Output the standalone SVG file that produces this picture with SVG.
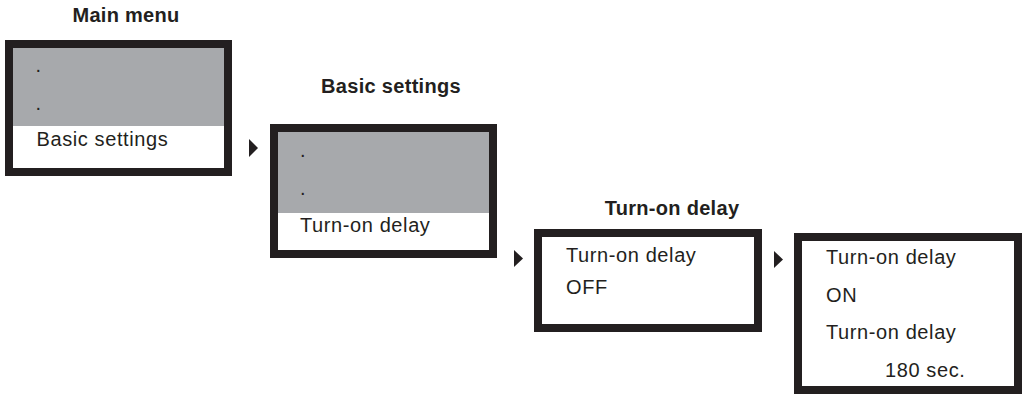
<svg xmlns="http://www.w3.org/2000/svg" width="1026" height="398" viewBox="0 0 1026 398">
<style>
.frame{fill:#ffffff;stroke:#231f20;stroke-width:8}
.shade{fill:#a7a9ac}
.t{font-family:"Liberation Sans",Arial,sans-serif;font-size:20px;fill:#231f20;letter-spacing:0.6px}
.h{font-family:"Liberation Sans",Arial,sans-serif;font-size:20px;font-weight:bold;fill:#231f20;text-anchor:middle;letter-spacing:0.3px}
.arr{fill:#231f20}
</style>
<rect width="1026" height="398" fill="#ffffff"/>
<g id="main-menu">
<text class="h" x="126" y="22">Main menu</text>
<rect class="frame" x="9" y="44" width="219" height="128"/>
<rect class="shade" x="13" y="48" width="211" height="78"/>
<text class="t" x="35.5" y="71.5">.</text>
<text class="t" x="35.5" y="109.5">.</text>
<text class="t" x="36.5" y="146">Basic settings</text>
</g>
<g id="basic-settings">
<text class="h" x="391" y="93">Basic settings</text>
<rect class="frame" x="274" y="128" width="219" height="126"/>
<rect class="shade" x="278" y="132" width="211" height="81"/>
<text class="t" x="300" y="156.5">.</text>
<text class="t" x="300" y="194.5">.</text>
<text class="t" x="300" y="232">Turn-on delay</text>
</g>
<g id="turn-on-delay-off">
<text class="h" x="672" y="215">Turn-on delay</text>
<rect class="frame" x="538" y="233" width="220" height="95"/>
<text class="t" x="566" y="262">Turn-on delay</text>
<text class="t" x="566" y="294">OFF</text>
</g>
<g id="turn-on-delay-on">
<rect class="frame" x="798" y="237" width="220" height="153"/>
<text class="t" x="826" y="264">Turn-on delay</text>
<text class="t" x="826" y="302">ON</text>
<text class="t" x="826" y="339">Turn-on delay</text>
<text class="t" x="885" y="377">180 sec.</text>
</g>
<g id="connectors">
<polygon class="arr" points="249,139 258,148 249,157"/>
<polygon class="arr" points="514,250 523,258.5 514,267"/>
<polygon class="arr" points="774,251 783,259.5 774,268"/>
</g>
</svg>
